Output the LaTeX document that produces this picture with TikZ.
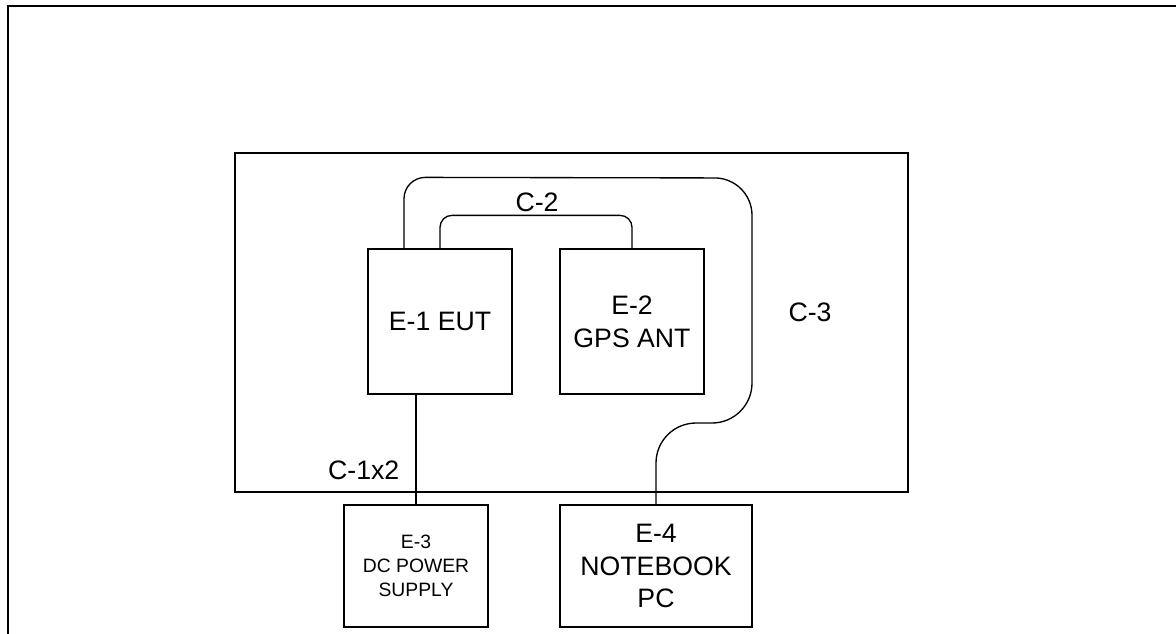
\documentclass[tikz,border=0pt]{standalone}
\usepackage{fontspec}
\setmainfont{Liberation Sans}
\begin{document}
\begin{tikzpicture}[
    x=0.75pt, y=-0.75pt,
    unit/.style={draw, line width=1pt, inner sep=0pt, align=center,
                 font=\fontsize{20}{24.5}\selectfont},
    unitsmall/.style={unit, font=\fontsize{14.5}{18}\selectfont},
    cable/.style={line width=1pt},
    tag/.style={font=\fontsize{20}{24}\selectfont},
]
    \useasboundingbox (0,0) rectangle (1176,633);
    \clip (0,0) rectangle (1176,633);

    % Outer frame
    \draw[line width=1.5pt] (8,6) rectangle (1200,660);

    % Test area
    \node[draw, line width=1pt, minimum width=504.75pt, minimum height=254.25pt] (room) at (571.5,322.5) {};

    % Equipment
    \node[unit, minimum width=108pt, minimum height=108.75pt] (eut) at (440,321.5) {E-1 EUT};
    \node[unit, minimum width=108pt, minimum height=108.75pt] (gps) at (632,321.5) {E-2\\GPS ANT};
    \node[unitsmall, minimum width=108pt, minimum height=91.5pt] (psu) at (416,566) {E-3\\DC POWER\\SUPPLY};
    \node[unit, minimum width=144pt, minimum height=91.5pt] (pc) at (656,566) {E-4\\NOTEBOOK\\PC};

    % Cables
    \draw[cable] (psu.north) -- (psu.north |- eut.south);
    \draw[cable, rounded corners=9pt] (eut.north) -- ++(0,-33) -| (gps.north);
    \coordinate (c3start) at ([xshift=-27pt]eut.north);
    \draw[cable] (c3start) [rounded corners=16pt] -- ++(0,-71)
        [rounded corners=28pt] -- (752,178)
        [rounded corners=30pt] -- (752,423) -- (pc.north |- 0,423) -- (pc.north);

    % Cable labels
    \node[tag, anchor=east] (lblc1) at (404,470) {C-1x2};
    \node[tag] (lblc2) at (537,202) {C-2};
    \node[tag] (lblc3) at (810,312) {C-3};

\end{tikzpicture}
\end{document}
